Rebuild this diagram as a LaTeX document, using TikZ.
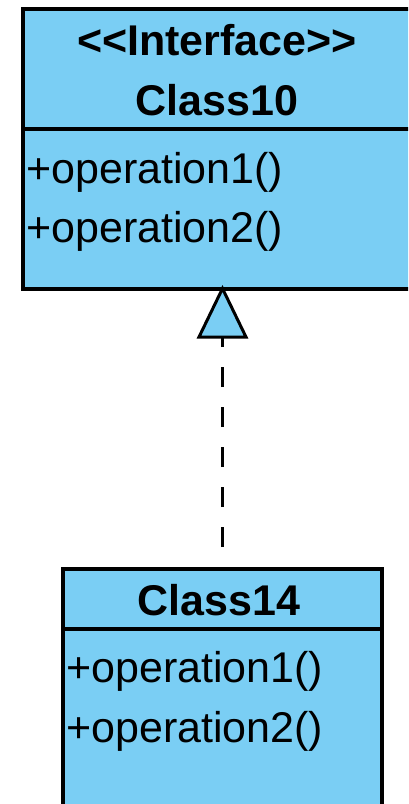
\documentclass[tikz,border=0pt]{standalone}
\usepackage{fontspec}
\setmainfont{Liberation Sans}
\begin{document}
\begin{tikzpicture}[x=1pt,y=-1pt,
  umlbox/.style={draw=black, fill=classblue, line width=4pt, inner sep=0pt},
  hdr/.style={font=\fontsize{43}{43}\selectfont\bfseries, inner sep=0pt, anchor=base},
  op/.style={font=\fontsize{43}{43}\selectfont, inner sep=0pt, anchor=base west},
  realize/.style={draw=black, line width=3.5pt, dash pattern=on 20pt off 20pt, dash phase=20pt},
  tri/.style={draw=black, fill=classblue, line width=3pt, line join=miter}
]
\definecolor{classblue}{HTML}{7ACEF4}
\useasboundingbox (0,0) rectangle (408,804);
\clip (0,0) rectangle (408,804);
\fill[white] (0,0) rectangle (408,804);

% Interface Class10
\node[umlbox, minimum width=388pt, minimum height=279.5pt] (c10) at (217,148.75) {};
\draw[line width=4pt] (c10.west |- 0,129) -- (c10.east |- 0,129);
\node[hdr] (c10st) at (217,55) {<{}<Interface>{}>};
\node[hdr] (c10name) at (217,115) {Class10};
\node[op] (c10op1) at (26,183) {+operation1()};
\node[op] (c10op2) at (26,242) {+operation2()};

% Class14
\node[umlbox, minimum width=319pt, minimum height=261pt] (c14) at (222.5,699.5) {};
\draw[line width=4pt] (c14.west |- 0,629) -- (c14.east |- 0,629);
\node[hdr] (c14name) at (219,615) {Class14};
\node[op] (c14op1) at (66,682) {+operation1()};
\node[op] (c14op2) at (66,742) {+operation2()};

% realization
\coordinate (apex) at (222.5,288.5);
\coordinate (tbase) at (222.5,337);
\draw[realize] (c14.north) -- (tbase);
\draw[tri] (apex) -- (199,337) -- (246,337) -- cycle;
\end{tikzpicture}
\end{document}
